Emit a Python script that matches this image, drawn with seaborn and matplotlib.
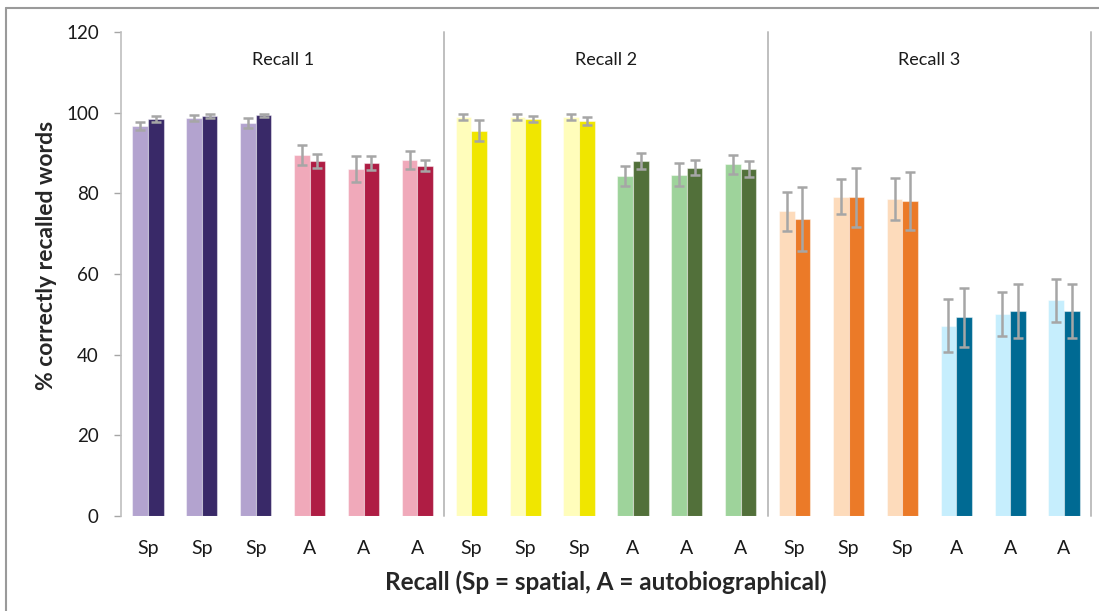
import matplotlib
matplotlib.use("Agg")
import matplotlib.pyplot as plt
from matplotlib.lines import Line2D
import numpy as np
import pandas as pd
import seaborn as sns

# ---- data -------------------------------------------------------------
recall_blocks = ["Recall 1", "Recall 2", "Recall 3"]
tick_labels = ["Sp", "Sp", "Sp", "A", "A", "A"] * 3

# mean % correctly recalled words (first / second bar of each pair)
first_mean = [96.7, 98.7, 97.4, 89.5, 86.0, 88.2,
              99.0, 99.0, 99.0, 84.3, 84.6, 87.2,
              75.5, 79.2, 78.7, 47.2, 50.1, 53.5]
second_mean = [98.4, 99.2, 99.3, 88.0, 87.5, 86.9,
               95.5, 98.4, 97.9, 88.0, 86.4, 86.0,
               73.6, 79.0, 78.1, 49.3, 50.8, 50.8]

# error (± half-width of error bar)
first_err = [1.1, 0.7, 1.2, 2.5, 3.3, 2.2,
             0.7, 0.7, 0.5, 2.6, 2.8, 2.4,
             4.9, 4.3, 5.2, 6.6, 5.4, 5.3]
second_err = [0.8, 0.4, 0.35, 1.7, 1.7, 1.4,
              2.6, 0.75, 1.0, 1.9, 1.8, 2.0,
              8.0, 7.3, 7.1, 7.3, 7.2, 6.6]

# colour pairs (light, dark) for each block of three conditions
pair_colors = [
    ("#B3A3CF", "#392968"),  # Recall 1 Sp
    ("#F0A9BA", "#AF1D44"),  # Recall 1 A
    ("#FFFDBB", "#F0E600"),  # Recall 2 Sp
    ("#9ED39B", "#52703A"),  # Recall 2 A
    ("#FDDBBB", "#EB7A28"),  # Recall 3 Sp
    ("#C6EEFD", "#006A93"),  # Recall 3 A
]

# ---- long-form table ----------------------------------------------------
cat_ids = [f"c{i:02d}" for i in range(len(tick_labels))]
series_names = ["first", "second"]
df = pd.DataFrame({
    "cat": cat_ids * 2,
    "series": [series_names[0]] * len(cat_ids) + [series_names[1]] * len(cat_ids),
    "value": first_mean + second_mean,
    "err": first_err + second_err,
    "colour_group": [i // 3 for i in range(len(cat_ids))] * 2,
})

# ---- figure -------------------------------------------------------------
sns.set_style("white")
plt.rcParams["font.family"] = ["Lato", "DejaVu Sans"]

W, H = 1099, 611
fig = plt.figure(figsize=(W / 100, H / 100), dpi=100)
ax = fig.add_axes([121 / W, (H - 516) / H, (1091 - 121) / W, (516 - 32) / H])

err_color = "#A6A6A6"
for g, (light, dark) in enumerate(pair_colors):
    sub = df[df["colour_group"] == g]
    n_before = len(ax.patches)
    sns.barplot(data=sub, x="cat", y="value", hue="series", order=cat_ids,
                hue_order=series_names, palette=[light, dark], width=0.58,
                gap=0, errorbar=None, saturation=1,
                edgecolor=(1, 1, 1, 0.45), linewidth=0.8,
                legend=False, ax=ax)
    new_patches = [p for p in ax.patches[n_before:] if p.get_height() > 0]
    # match each new bar with its row to attach the error bar
    for p in new_patches:
        xc = p.get_x() + p.get_width() / 2
        h = p.get_height()
        row = sub.iloc[(sub["value"] - h).abs().argsort().iloc[0]]
        ax.errorbar(xc, h, yerr=row["err"], fmt="none", ecolor=err_color,
                    elinewidth=1.8, capsize=3.4, capthick=1.8, zorder=5)

# block separators
for xsep in (5.5, 11.5, 17.5):
    ax.axvline(xsep, ymin=0, ymax=1, color="#BFBFBF", lw=1.4, clip_on=False)

for i, name in enumerate(recall_blocks):
    ax.text(2.5 + 6 * i, 113, name, ha="center", va="center", fontsize=13,
            color="#1a1a1a")

ax.set_xlim(-0.5, 17.5)
ax.set_ylim(0, 120)
ax.set_yticks(np.arange(0, 121, 20))
ax.set_xticks(range(len(tick_labels)))
ax.set_xticklabels(tick_labels, fontsize=14, color="#1a1a1a")
ax.tick_params(axis="y", labelsize=13.5, colors="#1a1a1a", length=5, width=1,
               color="#A6A6A6", pad=11, direction="out", left=True)
ax.tick_params(axis="x", length=0, pad=17)

for s in ("top", "right", "bottom"):
    ax.spines[s].set_visible(False)
ax.spines["left"].set_color("#BFBFBF")
ax.spines["left"].set_linewidth(1.2)

ax.set_xlabel("Recall (Sp = spatial, A = autobiographical)", fontsize=17.5,
              fontweight="bold", labelpad=10)
ax.set_ylabel("% correctly recalled words", fontsize=16.5, fontweight="bold")
ax.yaxis.set_label_coords((57 - 121) / 970, (516 - 255) / 484)

# outer chart frame (top and left edges)
fig.add_artist(Line2D([6 / W, 1], [1 - 8 / H, 1 - 8 / H], color="#9A9A9A", lw=1.5))
fig.add_artist(Line2D([6 / W, 6 / W], [0, 1 - 8 / H], color="#9A9A9A", lw=1.5))

fig.savefig("out.png", dpi=100, facecolor="white")
